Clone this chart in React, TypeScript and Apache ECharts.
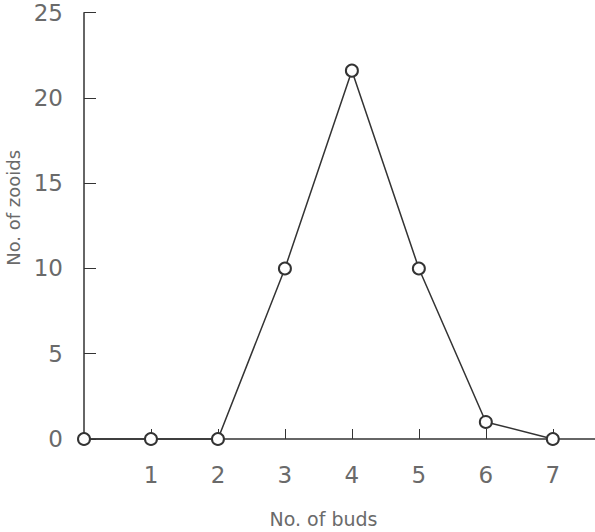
import React, { useEffect, useRef } from "react";
import * as echarts from "echarts";

const buds = [0, 1, 2, 3, 4, 5, 6, 7];
const zooids = [0, 0, 0, 10, 21.6, 10, 1, 0];
const xTickValues = [1, 2, 3, 4, 5, 6, 7];

export default function App() {
  const ref = useRef<HTMLDivElement>(null);
  useEffect(() => {
    const chart = echarts.init(ref.current!, null, { renderer: "svg" });
    const labelColor = "#6a6a6a";
    const lineColor = "#333";
    chart.setOption({
      animation: false,
      backgroundColor: "#fff",
      grid: {
        left: 84,
        right: 0,
        top: 12.7,
        bottom: 93,
        containLabel: false,
        outerBoundsMode: "none",
      },
      xAxis: {
        type: "value",
        min: 0,
        max: 7.63,
        interval: 1,
        name: "No. of buds",
        nameLocation: "middle",
        nameGap: 70,
        nameTextStyle: {
          fontFamily: "DejaVu Sans",
          fontSize: 19,
          color: labelColor,
          padding: [0, 32, 0, 0],
        },
        axisLine: { show: true, lineStyle: { color: lineColor, width: 1.5 } },
        axisTick: {
          show: true,
          inside: true,
          length: 10,
          customValues: xTickValues,
          lineStyle: { color: lineColor, width: 1 },
        },
        axisLabel: {
          customValues: xTickValues,
          margin: 24,
          fontFamily: "DejaVu Sans",
          fontSize: 23,
          color: labelColor,
        },
        splitLine: { show: false },
      },
      yAxis: {
        type: "value",
        min: 0,
        max: 25,
        interval: 5,
        name: "No. of zooids",
        nameLocation: "middle",
        nameGap: 55,
        nameTextStyle: {
          fontFamily: "DejaVu Sans",
          fontSize: 18,
          color: labelColor,
          padding: [0, 0, 0, 36],
        },
        axisLine: { show: true, lineStyle: { color: lineColor, width: 1.5 } },
        axisTick: {
          show: true,
          inside: true,
          length: 12,
          lineStyle: { color: lineColor, width: 1 },
        },
        axisLabel: {
          margin: 21,
          fontFamily: "DejaVu Sans",
          fontSize: 23,
          color: labelColor,
        },
        splitLine: { show: false },
      },
      series: [
        {
          type: "line",
          data: buds.map((b, i) => [b, zooids[i]]),
          symbol: "circle",
          symbolSize: 12,
          clip: false,
          lineStyle: { color: lineColor, width: 1.5 },
          itemStyle: { color: "#fff", borderColor: lineColor, borderWidth: 2 },
        },
      ],
    });
    return () => chart.dispose();
  }, []);
  return (
    <div
      ref={ref}
      style={{ position: "fixed", left: 0, top: 0, width: 595, height: 532 }}
    />
  );
}
